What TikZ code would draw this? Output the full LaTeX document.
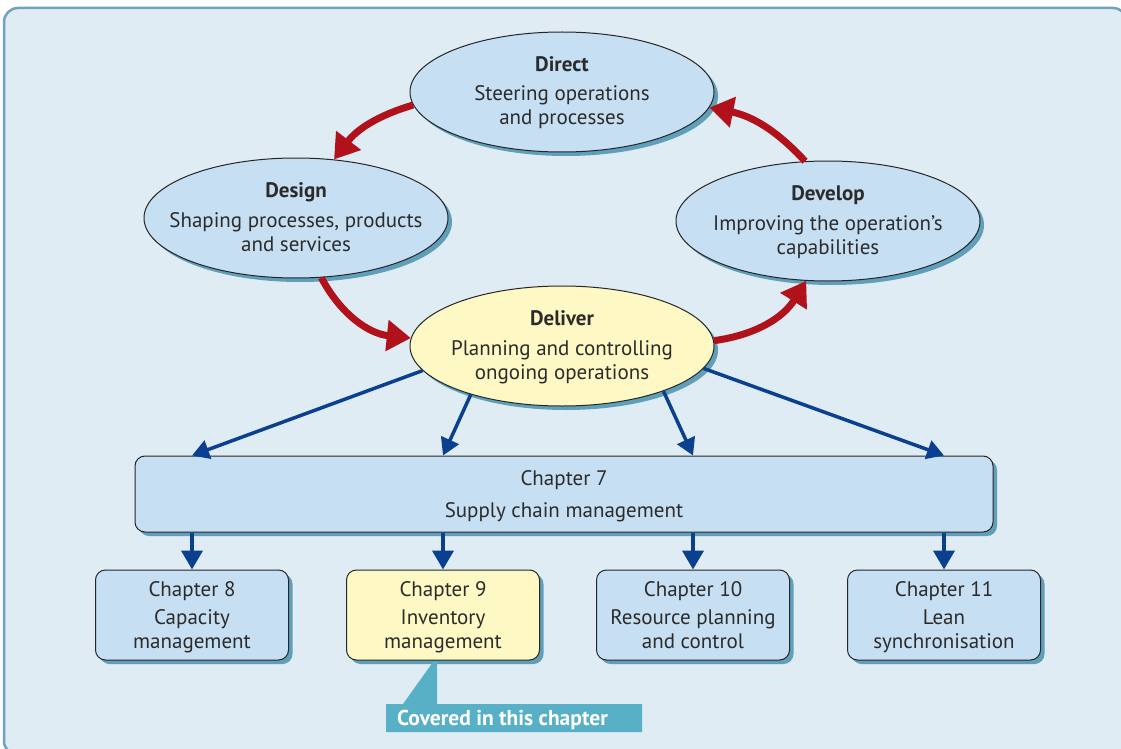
\documentclass[tikz,border=0pt]{standalone}
\usepackage{fontspec}
\setmainfont{PT Sans}
\usetikzlibrary{shapes.geometric, arrows.meta, shadows}

\definecolor{panelfill}{HTML}{E0ECF3}
\definecolor{panelline}{HTML}{6FA3BD}
\definecolor{boxblue}{HTML}{C6DFF2}
\definecolor{boxyellow}{HTML}{FEF9C4}
\definecolor{shadowblue}{HTML}{5F9FBA}
\definecolor{flowred}{HTML}{B0111B}
\definecolor{flowblue}{HTML}{0B3F8F}
\definecolor{calloutteal}{HTML}{57B0C6}
\definecolor{textdark}{HTML}{2B2B2B}

\newcommand{\topstrut}{\rule{0pt}{22.5pt}}

\begin{document}
\begin{tikzpicture}[x=1pt, y=-1pt, font=\fontsize{21}{24}\selectfont,
    blueshadow/.style={drop shadow={shadow xshift=4pt, shadow yshift=-4pt, fill=shadowblue, opacity=1}},
    activity/.style={ellipse, draw=black!85, line width=1pt, fill=boxblue,
        minimum width=304pt, minimum height=120pt, inner sep=0pt, blueshadow},
    actlabel/.style={align=center, text=textdark, inner sep=0pt, yshift=-1.5pt},
    chapbox/.style={rectangle, rounded corners=10pt, draw=black!85, line width=1pt, fill=boxblue,
        minimum width=193pt, minimum height=90pt, inner sep=0pt, align=center, text=textdark, blueshadow},
    redflow/.style={flowred, line width=7pt, -{Triangle[length=24pt, width=30pt]}},
    blueflow/.style={flowblue, line width=3.5pt, -{Triangle[length=17pt, width=19pt]}},
    ]
    \useasboundingbox (0,0) rectangle (1121,749);
    \fill[panelfill, draw=panelline, line width=2.5pt, rounded corners=14pt] (4,8) rectangle (1127,755);

    % the four activities
    \node[activity] (direct) at (562,92) {};
    \node[actlabel] (direct_txt) at (direct) {\strut\textbf{Direct}\\[5pt]Steering operations\\and processes\strut};

    \node[activity] (design) at (296,218) {};
    \node[actlabel] (design_txt) at (design) {\strut\textbf{Design}\\[6pt]Shaping processes, products\\and services\strut};

    \node[activity] (develop) at (828,221) {};
    \node[actlabel] (develop_txt) at (develop) {\strut\textbf{Develop}\\[6pt]Improving the operation's\\capabilities\strut};

    \node[activity, fill=boxyellow] (deliver) at (562,346) {};
    \node[actlabel] (deliver_txt) at (deliver) {\strut\textbf{Deliver}\\[6pt]Planning and controlling\\ongoing operations\strut};

    % chapters
    \node[chapbox, minimum width=858pt, minimum height=76pt] (ch7) at (564,494)
        {\topstrut Chapter 7\\[8pt]Supply chain management\strut};
    \node[chapbox] (ch8) at (192,615) {\topstrut Chapter 8\\[4pt]Capacity\\management\strut};
    \node[chapbox, fill=boxyellow] (ch9) at (443,615) {\topstrut Chapter 9\\[4pt]Inventory\\management\strut};
    \node[chapbox] (ch10) at (693,615) {\topstrut Chapter 10\\[4pt]Resource planning\\and control\strut};
    \node[chapbox] (ch11) at (944,615) {\topstrut Chapter 11\\[4pt]Lean\\synchronisation\strut};

    % the cycle
    \draw[redflow] (direct.185) to[bend right=18] (design.57);
    \draw[redflow] (design.293) to[bend right=28] (deliver.177);
    \draw[redflow] (deliver.2) to[bend right=25] (develop.250);
    \draw[redflow] (develop.111) to[bend right=18] (direct.354);

    % deliver to chapter 7
    \draw[blueflow] (deliver.190) -- (ch8 |- ch7.north);
    \draw[blueflow] (deliver.208) -- (ch9 |- ch7.north);
    \draw[blueflow] (deliver.336) -- (ch10 |- ch7.north);
    \draw[blueflow] (deliver.351) -- (ch11 |- ch7.north);

    \foreach \ch in {ch8, ch9, ch10, ch11}
        \draw[blueflow, line width=4pt, -{Triangle[length=19pt, width=21pt]}] (\ch |- ch7.south) -- (\ch.north);

    % callout
    \fill[calloutteal] (433,662) -- (437,662) -- (437,704) -- (642,704) -- (642,732)
        -- (386,732) -- (386,704) -- (403,704) -- cycle;
    \node[anchor=west, text=white, inner sep=0pt, font=\fontsize{21.5}{24}\selectfont\bfseries]
        (covered) at (397,720) {Covered in this chapter};
\end{tikzpicture}
\end{document}
